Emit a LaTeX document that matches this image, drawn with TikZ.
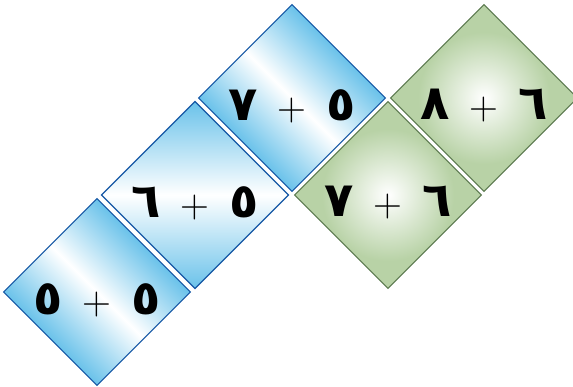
\documentclass[tikz,border=0pt]{standalone}
\usepackage{fontspec}
\TeXXeTstate=1
\newfontfamily\arabicfont[Script=Arabic]{DejaVu Sans}
\definecolor{tileblue}{RGB}{106,194,234}
\definecolor{bordblue}{RGB}{22,88,165}
\definecolor{tilegreen}{RGB}{184,210,166}
\definecolor{bordgreen}{RGB}{92,122,80}
\newcommand\tdig[1]{\makebox[36pt]{#1}}
\newcommand\tplus{\makebox[62pt]{\rmfamily\mdseries\fontsize{40}{40}\selectfont +}}
\tikzset{
  tileline/.style={line width=1.1pt},
  bluetile/.style={tileline, draw=bordblue, left color=tileblue, right color=tileblue, middle color=white},
  bluetileh/.style={tileline, draw=bordblue, top color=tileblue, bottom color=tileblue, middle color=white},
  greentile/.style={tileline, draw=bordgreen, inner color=white, outer color=tilegreen},
  sumtext/.style={font=\arabicfont\bfseries\fontsize{48}{48}\selectfont, inner sep=0pt},
}
\begin{document}
\begin{tikzpicture}[x=1pt,y=1pt]
\useasboundingbox (0,0) rectangle (573,386);
\coordinate (t1) at (97,94);
\coordinate (t2) at (195,191);
\coordinate (t3) at (292,288);
\coordinate (t4) at (388,191);
\coordinate (t5) at (484,288);
\begin{scope}[transform canvas={shift={(97,94)}, rotate=45}]
  \shade[bluetile] (-66,-66) rectangle (66,66);
\end{scope}
\shade[bluetileh] ([yshift=93.5pt]t2) -- ([xshift=93.5pt]t2) -- ([yshift=-93.5pt]t2) -- ([xshift=-93.5pt]t2) -- cycle;
\begin{scope}[transform canvas={shift={(292,288)}, rotate=45}]
  \shade[bluetile] (-66,-66) rectangle (66,66);
\end{scope}
\begin{scope}[transform canvas={shift={(388,191)}, rotate=45}]
  \shade[greentile] (-66,-66) rectangle (66,66);
\end{scope}
\begin{scope}[transform canvas={shift={(484,288)}, rotate=45}]
  \shade[greentile] (-66,-66) rectangle (66,66);
\end{scope}
\node[sumtext] (s1) at ([yshift=-8pt]t1) {\beginR\tdig{٥}\tplus\tdig{٥}\endR};
\node[sumtext] (s2) at ([yshift=-8pt]t2) {\beginR\tdig{٥}\tplus\tdig{٦}\endR};
\node[sumtext] (s3) at ([yshift=-8pt]t3) {\beginR\tdig{٥}\tplus\tdig{٧}\endR};
\node[sumtext] (s4) at ([yshift=-8pt]t4) {\beginR\tdig{٦}\tplus\tdig{٧}\endR};
\node[sumtext] (s5) at ([yshift=-8pt]t5) {\beginR\tdig{٦}\tplus\tdig{٨}\endR};
\end{tikzpicture}
\end{document}
